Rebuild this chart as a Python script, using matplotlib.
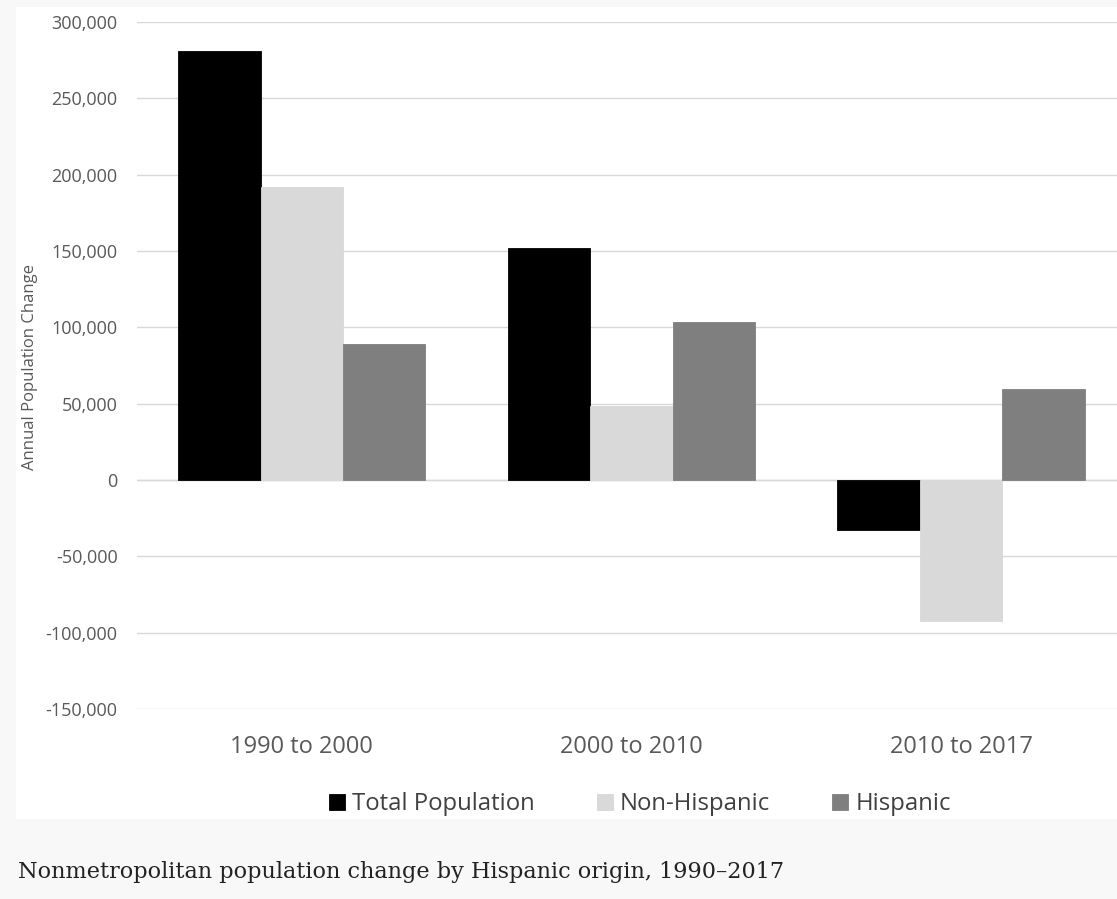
import numpy as np
import matplotlib.pyplot as plt
from matplotlib.patches import Rectangle
from matplotlib.ticker import FuncFormatter

periods = ["1990 to 2000", "2000 to 2010", "2010 to 2017"]
total_pop = [281000, 152000, -33000]
non_hispanic = [192000, 48500, -92500]
hispanic = [89000, 103500, 59500]

series = ["Total Population", "Non-Hispanic", "Hispanic"]
colors = ["#000000", "#d9d9d9", "#7f7f7f"]

W, H = 1117, 899
fig = plt.figure(figsize=(W / 100, H / 100), dpi=100)
fig.patch.set_facecolor("#f8f8f8")

# white panel behind the chart, caption strip stays grey
fig.add_artist(Rectangle((16 / W, 1 - 819 / H), 1 - 16 / W, (819 - 7) / H,
                         transform=fig.transFigure, facecolor="white",
                         edgecolor="none", zorder=0))

ax = fig.add_axes([137 / W, 1 - 709 / H, 1 - 137 / W, (709 - 22) / H])
ax.set_facecolor("none")

x = np.arange(len(periods))
w = 0.25
for i, (vals, name, c) in enumerate(zip([total_pop, non_hispanic, hispanic], series, colors)):
    ax.bar(x + (i - 1) * w, vals, w, color=c, label=name, zorder=3,
           edgecolor=c, linewidth=0.6)

ax.set_xlim(-0.5, 2.473)
ax.set_ylim(-150000, 300000)
ax.set_yticks(np.arange(-150000, 300001, 50000))
ax.yaxis.set_major_formatter(FuncFormatter(lambda v, p: f"{int(v):,}"))
ax.grid(axis="y", color="#d9d9d9", linewidth=1.0, zorder=0)
ax.axhline(0, color="#d9d9d9", linewidth=1.0, zorder=1)
for s in ax.spines.values():
    s.set_visible(False)

ax.set_xticks(x)
ax.set_xticklabels(periods)
ax.tick_params(axis="y", length=0, pad=14, labelsize=13, labelcolor="#595959")
ax.tick_params(axis="x", length=0, pad=19, labelsize=17, labelcolor="#595959")
for lbl in ax.get_yticklabels() + ax.get_xticklabels():
    lbl.set_fontfamily("Open Sans")

fig.text(30 / W, 1 - 367 / H, "Annual Population Change", rotation=90,
         ha="center", va="center", fontsize=12, color="#595959",
         family="Open Sans")

leg = fig.legend(loc="center", bbox_to_anchor=(640 / W, 1 - 804 / H), ncol=3,
                 frameon=False, handlelength=0.66, handleheight=0.66,
                 handletextpad=0.3, columnspacing=2.6,
                 prop={"family": "Open Sans", "size": 17.2})
for t in leg.get_texts():
    t.set_color("#404040")

fig.text(18 / W, 1 - 878 / H,
         "Nonmetropolitan population change by Hispanic origin, 1990\u20132017",
         ha="left", va="baseline", fontsize=16.1, color="#222222",
         family="DejaVu Serif")

fig.savefig("out.png", dpi=100, facecolor=fig.get_facecolor())
